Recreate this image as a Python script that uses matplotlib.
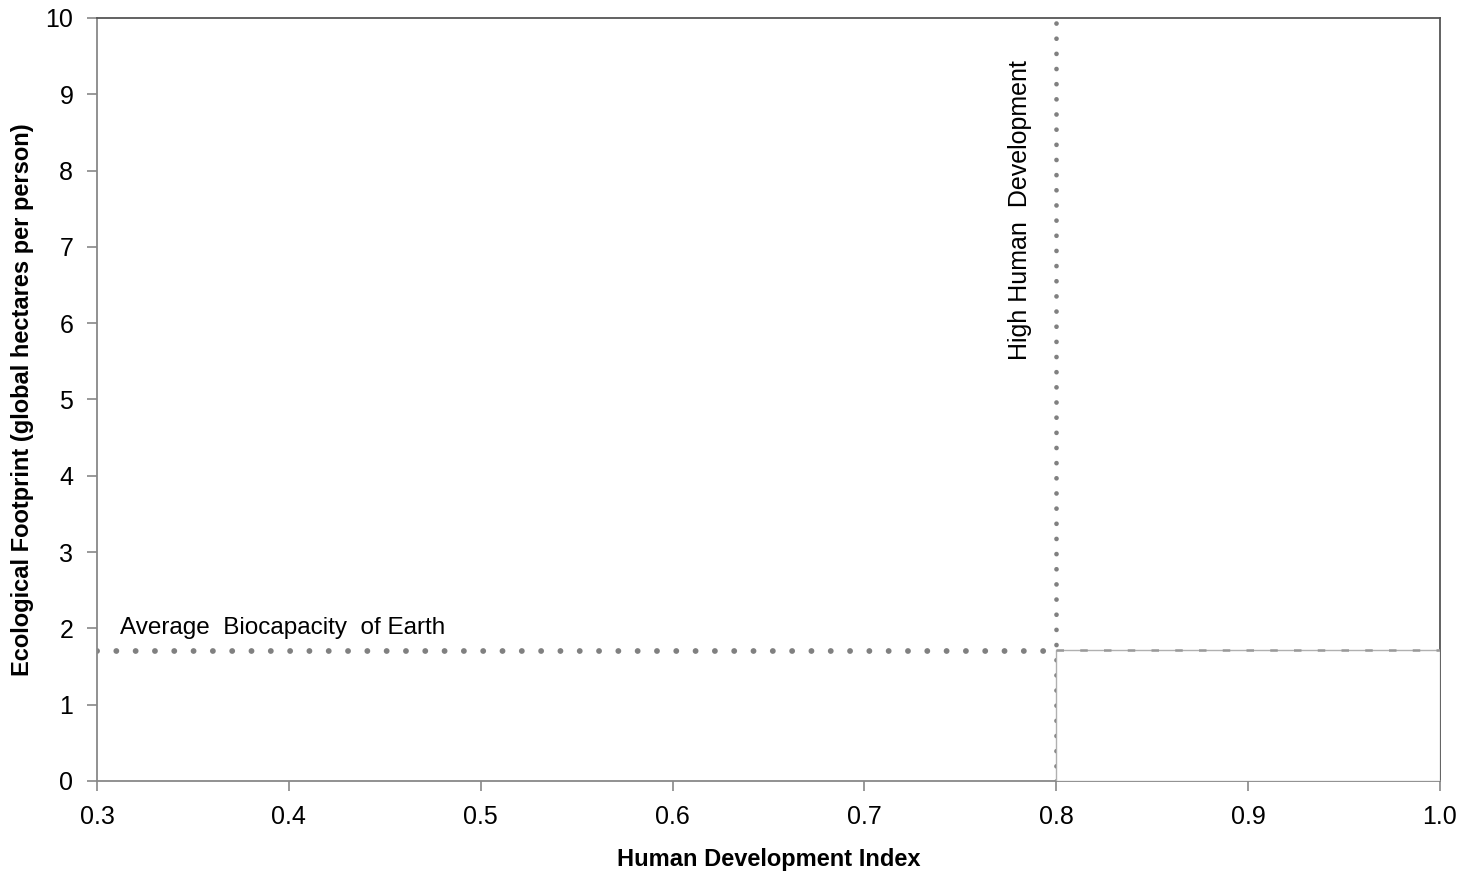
import matplotlib
matplotlib.use("Agg")
import matplotlib.pyplot as plt
from matplotlib.patches import Rectangle
import matplotlib.patheffects as pe

plt.rcParams['font.family'] = ['Liberation Sans', 'DejaVu Sans']

# data
x_ticks = [0.3, 0.4, 0.5, 0.6, 0.7, 0.8, 0.9, 1.0]
x_tick_labels = ["0.3", "0.4", "0.5", "0.6", "0.7", "0.8", "0.9", "1.0"]
y_ticks = [0, 1, 2, 3, 4, 5, 6, 7, 8, 9, 10]
hdi_threshold = 0.8
biocapacity = 1.7
biocap_box_top = 1.72
x_range = [0.3, 1.0]
y_range = [0, 10]

fig = plt.figure(figsize=(14.6, 8.72), dpi=100)
ax = fig.add_axes([0.0664, 0.1044, 0.9863 - 0.0664, 0.9794 - 0.1044])
ax.set_xlim(*x_range)
ax.set_ylim(*y_range)

gray = "#808080"
# vertical dotted line
ax.plot([hdi_threshold, hdi_threshold], y_range, color=gray, lw=3.4,
        linestyle=(0, (0.01, 3.2)), dash_capstyle='round', zorder=2)
# horizontal dotted line
ax.plot([x_range[0], hdi_threshold], [biocapacity, biocapacity], color=gray, lw=4.2,
        linestyle=(0, (0.01, 3.3)), dash_capstyle='round', zorder=2)

# lower-right box
rect = Rectangle((hdi_threshold, 0), x_range[1] - hdi_threshold, biocap_box_top,
                 facecolor='white', edgecolor='#b0b0b0', lw=1.0, zorder=3,
                 path_effects=[pe.SimplePatchShadow(offset=(1.5, -1.5), shadow_rgbFace='#bbbbbb', alpha=0.6), pe.Normal()])
ax.add_patch(rect)
ax.plot([hdi_threshold, x_range[1]], [biocap_box_top, biocap_box_top], color='#999999', lw=1.8,
        linestyle=(0, (3.0, 6.5)), zorder=4)

ax.text(0.312, 2.0, "Average  Biocapacity  of Earth", fontsize=17.5, ha='left', va='center', color='black')
ax.text(0.781, 7.48, "High Human  Development", fontsize=18, rotation=90, ha='center', va='center', color='black')

ax.set_xticks(x_ticks)
ax.set_xticklabels(x_tick_labels)
ax.set_yticks(y_ticks)
ax.tick_params(axis='both', direction='out', length=7, width=1.2, color='#888888', labelsize=18, pad=10)
for s in ['left', 'bottom']:
    ax.spines[s].set_color('#888888')
    ax.spines[s].set_linewidth(1.3)
for s in ['top', 'right']:
    ax.spines[s].set_color('#555555')
    ax.spines[s].set_linewidth(1.3)

ax.set_xlabel("Human Development Index", fontsize=17, fontweight='bold', labelpad=14)
ax.set_ylabel("Ecological Footprint (global hectares per person)", fontsize=17, fontweight='bold')
ax.yaxis.set_label_coords(-0.047, 0.5)

fig.savefig("out.png", dpi=100)
